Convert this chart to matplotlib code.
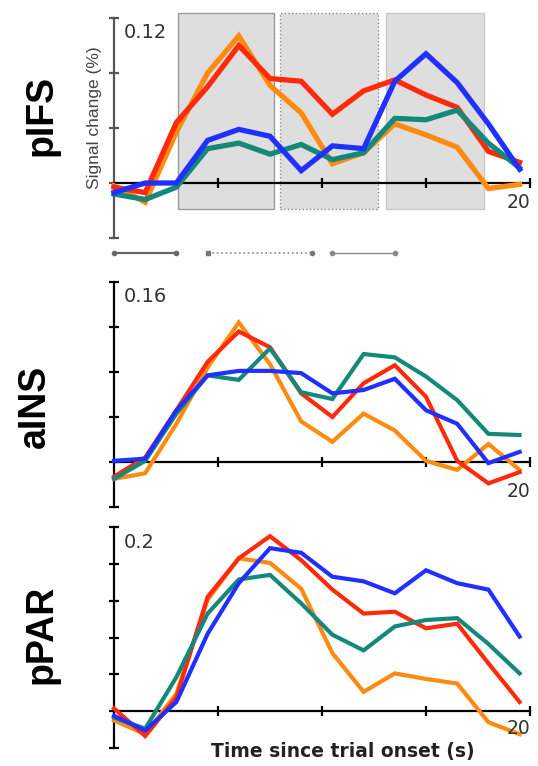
import matplotlib
matplotlib.use("Agg")
import matplotlib.pyplot as plt
from matplotlib.patches import Rectangle

W, H = 538, 766

# Time points (s)
time_s = [0, 1.5, 3, 4.5, 6, 7.5, 9, 10.5, 12, 13.5, 15, 16.5, 18, 19.5]

# Signal change (%) per region and condition
pifs_red = [-0.003, -0.007, 0.044, 0.070, 0.100, 0.076, 0.074, 0.050, 0.067, 0.075, 0.064, 0.055, 0.023, 0.015]
pifs_orange = [-0.002, -0.014, 0.037, 0.080, 0.107, 0.071, 0.051, 0.014, 0.022, 0.043, 0.035, 0.026, -0.004, -0.001]
pifs_teal = [-0.008, -0.012, -0.003, 0.025, 0.029, 0.021, 0.028, 0.017, 0.022, 0.047, 0.046, 0.053, 0.029, 0.011]
pifs_blue = [-0.007, 0.000, 0.000, 0.031, 0.039, 0.034, 0.009, 0.027, 0.025, 0.074, 0.094, 0.073, 0.043, 0.010]

ains_red = [-0.013, 0.004, 0.046, 0.089, 0.116, 0.102, 0.061, 0.040, 0.070, 0.086, 0.058, 0.001, -0.019, -0.009]
ains_orange = [-0.015, -0.010, 0.034, 0.084, 0.124, 0.087, 0.036, 0.018, 0.043, 0.028, 0.001, -0.007, 0.016, -0.007]
ains_teal = [-0.015, 0.001, 0.043, 0.077, 0.073, 0.101, 0.062, 0.056, 0.096, 0.093, 0.076, 0.055, 0.025, 0.024]
ains_blue = [0.001, 0.003, 0.046, 0.077, 0.081, 0.081, 0.079, 0.061, 0.064, 0.074, 0.046, 0.034, -0.001, 0.009]

ppar_red = [0.003, -0.027, 0.015, 0.124, 0.166, 0.190, 0.164, 0.132, 0.106, 0.108, 0.090, 0.095, 0.052, 0.010]
ppar_orange = [-0.010, -0.025, 0.019, 0.121, 0.166, 0.161, 0.133, 0.063, 0.021, 0.041, 0.035, 0.030, -0.012, -0.025]
ppar_teal = [-0.007, -0.019, 0.037, 0.106, 0.143, 0.148, 0.117, 0.083, 0.066, 0.092, 0.099, 0.101, 0.073, 0.041]
ppar_blue = [-0.005, -0.021, 0.010, 0.084, 0.139, 0.177, 0.172, 0.146, 0.141, 0.128, 0.153, 0.139, 0.132, 0.081]

region_names = ["pIFS", "aINS", "pPAR"]
y_top_labels = ["0.12", "0.16", "0.2"]
y_limits = [(-0.04, 0.12), (-0.04, 0.16), (-0.04, 0.2)]

# Trial phase windows (s) shown as shaded boxes in the top panel
phase_windows = [(3.1, 7.7), (8.0, 12.7), (13.1, 17.8)]
# Interval bars under the top panel (s)
interval_bars = [(0, 3), (4.5, 9.5), (10.5, 13.5)]

colors = {"orange": "#ff8a10", "red": "#ff2a0a", "teal": "#14887a", "blue": "#1f30ff"}

series = [
    {"orange": pifs_orange, "red": pifs_red, "teal": pifs_teal, "blue": pifs_blue},
    {"orange": ains_orange, "red": ains_red, "teal": ains_teal, "blue": ains_blue},
    {"orange": ppar_orange, "red": ppar_red, "teal": ppar_teal, "blue": ppar_blue},
]

fig = plt.figure(figsize=(W / 100, H / 100), dpi=100)


def fx(px):
    return px / W


def fy(py):
    return 1 - py / H


# panel extents in pixels: (top, bottom)
panel_px = [(18, 238), (282, 507), (527, 748)]
x_left, x_right = 114, 530
label_y = [115, 406, 634]
label_x = [42, 35, 42]
lw_list = [3.8, 3.0, 3.0]

for i, (ax_top, ax_bot) in enumerate(panel_px):
    ax = fig.add_axes([fx(x_left), fy(ax_bot), fx(x_right - x_left), (ax_bot - ax_top) / H])
    ax.set_xlim(0, 20)
    ax.set_ylim(*y_limits[i])
    ax.patch.set_alpha(0)

    for s in ["top", "right"]:
        ax.spines[s].set_visible(False)
    ax.spines["bottom"].set_position(("data", 0))
    ax.spines["bottom"].set_linewidth(1.6)
    ax.spines["left"].set_linewidth(1.6)
    axis_col = "#555555" if i == 0 else "black"
    ax.spines["left"].set_color(axis_col)

    ymin, ymax = y_limits[i]
    yt = [ymin + 0.04 * k for k in range(int(round((ymax - ymin) / 0.04)) + 1)]
    ax.set_yticks(yt)
    ax.set_xticks([5, 10, 15, 20])
    ax.tick_params(axis="both", direction="inout", length=7, width=1.6,
                   labelleft=False, labelbottom=False)
    ax.tick_params(axis="y", colors=axis_col)

    if i == 0:
        for k, (a, b) in enumerate(phase_windows):
            ls = ":" if k == 1 else "-"
            ec = "#9a9a9a" if k == 0 else ("#8a8a8a" if k == 1 else "#c8c8c8")
            ax.add_patch(Rectangle((a, -0.0187), b - a, 0.1427, facecolor="#dedede",
                                   edgecolor=ec, linestyle=ls, linewidth=1.0,
                                   clip_on=False, zorder=0))
        bar_y = -0.0512
        for k, (a, b) in enumerate(interval_bars):
            if k == 0:
                ax.plot([a, b], [bar_y, bar_y], color="#666666", lw=1.6, clip_on=False,
                        marker="o", ms=3, markevery=[0, 1])
            elif k == 1:
                ax.plot([a, b], [bar_y, bar_y], color="#888888", lw=1.2, ls=":",
                        clip_on=False)
                ax.plot([a], [bar_y], marker="s", ms=3.5, color="#777777", clip_on=False)
                ax.plot([b], [bar_y], marker="o", ms=3, color="#777777", clip_on=False)
            else:
                ax.plot([a, b], [bar_y, bar_y], color="#888888", lw=1.0, clip_on=False,
                        marker="o", ms=3, markevery=[0, 1])

    for name in ["orange", "red", "teal", "blue"]:
        ax.plot(time_s, series[i][name], color=colors[name], lw=lw_list[i],
                solid_joinstyle="miter", clip_on=False, zorder=3)

    # value at top of y-axis and end of x-axis
    fig.text(fx(124), fy(ax_top + 15), y_top_labels[i], fontsize=14,
             family="DejaVu Sans", color="#333333", ha="left", va="center")
    end_label_y = [202, 491, 729][i]
    fig.text(fx(519), fy(end_label_y), "20", fontsize=13.5, family="DejaVu Sans",
             color="#333333", ha="center", va="center")

    fig.text(fx(label_x[i]), fy(label_y[i]), region_names[i], rotation=90,
             fontsize=27, fontweight="bold", family="Liberation Sans",
             ha="center", va="center")

fig.text(fx(94), fy(118), "Signal change (%)", rotation=90, fontsize=12.5,
         family="Liberation Sans", color="#444444",
         ha="center", va="center")

fig.text(fx(343), fy(751), "Time since trial onset (s)", fontsize=13.5,
         fontweight="bold", family="DejaVu Sans", color="#222222",
         ha="center", va="center")

fig.savefig("out.png", dpi=100)
